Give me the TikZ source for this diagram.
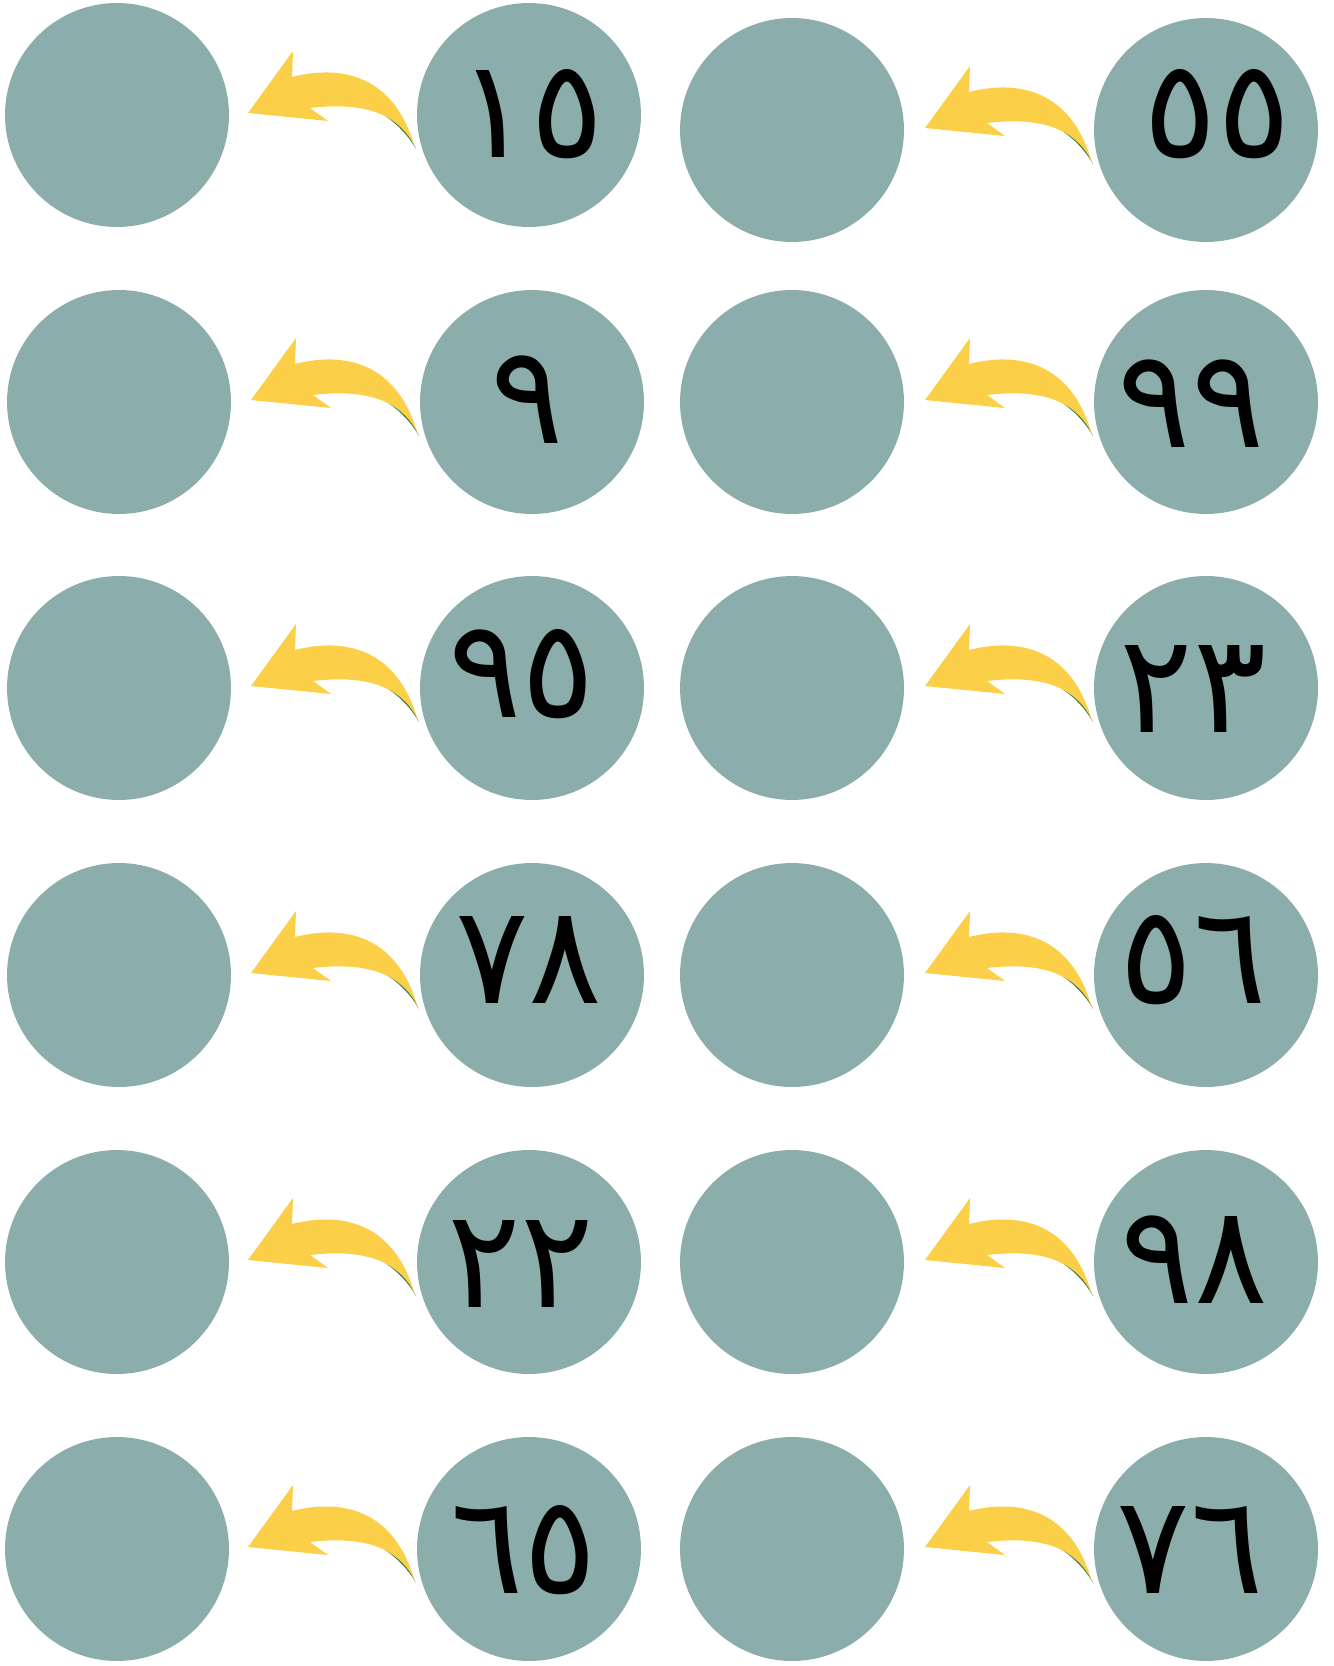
\documentclass[tikz,border=0pt]{standalone}
\usepackage{fontspec}
\newfontfamily\arabicfont[Script=Arabic]{DejaVu Sans}
\usepackage{xcolor}
\definecolor{discteal}{HTML}{8BADAB}
\definecolor{arrowyellow}{HTML}{FBCF48}
\definecolor{arrowgreen}{HTML}{41804C}

\tikzset{
  disc/.style = {circle, fill=discteal, inner sep=0pt, minimum size=4.48cm},
  num/.style = {anchor=base, inner sep=0pt, text=black,
                font=\arabicfont\fontsize{78}{78}\selectfont},
  pics/bentarrow/.style = {code={
      % green underside of the tail
      \fill[arrowgreen] (-169,-10) .. controls (-155,-7) and (-130,5) .. (-113,34)
                        -- (-117,26) .. controls (-132,2) and (-150,-12) .. (-169,-14) -- cycle;
      % yellow bent arrow
      \fill[arrowyellow] (-281,-2) -- (-236,-64) -- (-237,-38)
                        .. controls (-190,-50) and (-135,-42) .. (-114,33)
                        -- (-117,26) .. controls (-132,2) and (-160,-14) .. (-219,-7)
                        -- (-201,6) -- cycle;
  }}
}

\begin{document}
\begin{tikzpicture}[x=0.02cm, y=-0.02cm]
    \useasboundingbox (0,0) rectangle (1333,1666);

    % row 1
    \node[disc] (e1) at (117,115) {};
    \node[disc] (n1) at (529,115) {};
    \node[num] (t1) at (531,157) {١٥};
    \pic at (n1.center) {bentarrow};
    \node[disc] (e2) at (792,130) {};
    \node[disc] (n2) at (1206,130) {};
    \node[num] (t2) at (1217,157) {٥٥};
    \pic at (n2.center) {bentarrow};

    % row 2
    \node[disc] (e3) at (119,402) {};
    \node[disc] (n3) at (532,402) {};
    \node[num] (t3) at (527,443) {٩};
    \pic at (n3.center) {bentarrow};
    \node[disc] (e4) at (792,402) {};
    \node[disc] (n4) at (1206,402) {};
    \node[num] (t4) at (1191,447) {٩٩};
    \pic at (n4.center) {bentarrow};

    % row 3
    \node[disc] (e5) at (119,688) {};
    \node[disc] (n5) at (532,688) {};
    \node[num] (t5) at (522,717) {٩٥};
    \pic at (n5.center) {bentarrow};
    \node[disc] (e6) at (792,688) {};
    \node[disc] (n6) at (1206,688) {};
    \node[num] (t6) at (1193,732) {٢٣};
    \pic at (n6.center) {bentarrow};

    % row 4
    \node[disc] (e7) at (119,975) {};
    \node[disc] (n7) at (532,975) {};
    \node[num] (t7) at (529,1003) {٧٨};
    \pic at (n7.center) {bentarrow};
    \node[disc] (e8) at (792,975) {};
    \node[disc] (n8) at (1206,975) {};
    \node[num] (t8) at (1193,1003) {٥٦};
    \pic at (n8.center) {bentarrow};

    % row 5
    \node[disc] (e9) at (117,1262) {};
    \node[disc] (n9) at (529,1262) {};
    \node[num] (t9) at (521,1307) {٢٢};
    \pic at (n9.center) {bentarrow};
    \node[disc] (e10) at (792,1262) {};
    \node[disc] (n10) at (1206,1262) {};
    \node[num] (t10) at (1194,1303) {٩٨};
    \pic at (n10.center) {bentarrow};

    % row 6
    \node[disc] (e11) at (117,1549) {};
    \node[disc] (n11) at (529,1549) {};
    \node[num] (t11) at (524,1593) {٦٥};
    \pic at (n11.center) {bentarrow};
    \node[disc] (e12) at (792,1549) {};
    \node[disc] (n12) at (1206,1549) {};
    \node[num] (t12) at (1190,1593) {٧٦};
    \pic at (n12.center) {bentarrow};
\end{tikzpicture}
\end{document}
